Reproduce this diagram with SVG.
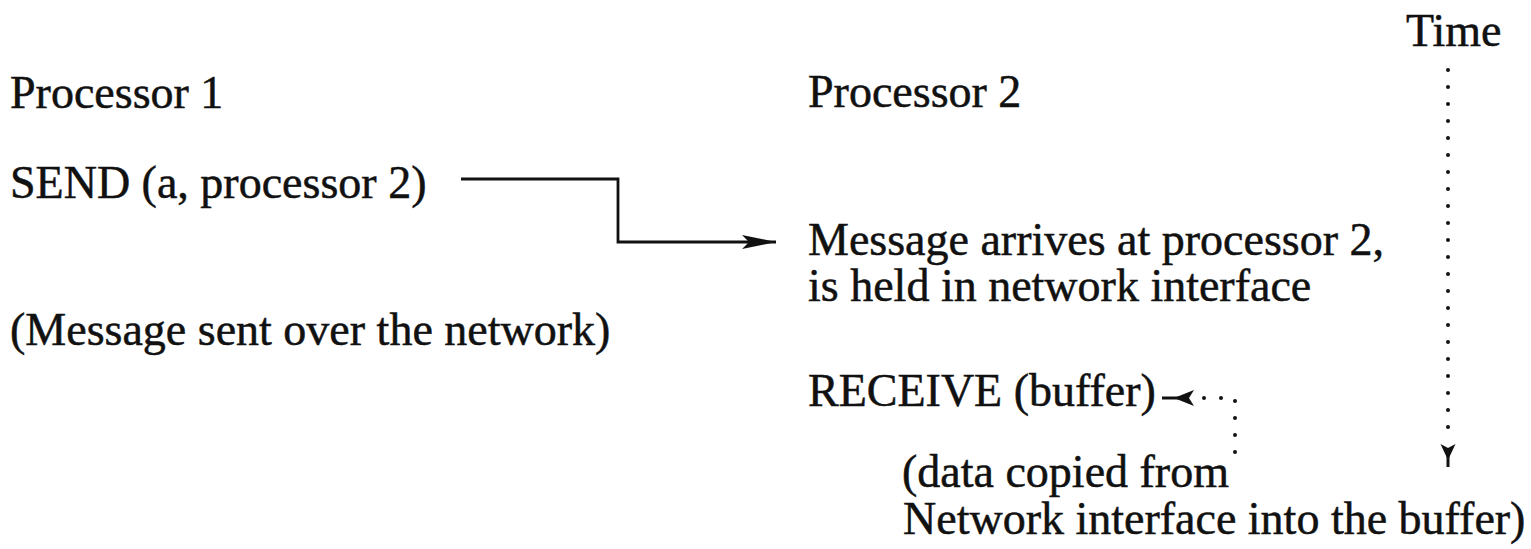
<svg xmlns="http://www.w3.org/2000/svg" width="1531" height="549" viewBox="0 0 1531 549">
  <style>
    text { font-family: "Liberation Serif", "Times New Roman", serif; font-size: 46px; fill: #111; stroke: #111; stroke-width: 0.5; }
    .solid { fill: none; stroke: #111; stroke-width: 2.8; }
    .dotted { fill: none; stroke: #111; stroke-width: 4; stroke-linecap: round; stroke-dasharray: 0 17; }
    .carrier { fill: none; stroke: none; }
  </style>
  <defs>
    <!-- barbed head for the solid message arrow -->
    <marker id="headSolid" markerUnits="userSpaceOnUse" viewBox="-36 -9 38 18" refX="0" refY="0" markerWidth="38" markerHeight="18" orient="auto">
      <path d="M0,0 L-34,-7 L-27,0 L-34,7 Z" fill="#111"/>
    </marker>
    <!-- dart head with a short stem for the dotted arrows -->
    <marker id="headDart" markerUnits="userSpaceOnUse" viewBox="-36 -11 38 22" refX="0" refY="0" markerWidth="38" markerHeight="22" orient="auto">
      <path d="M0,0 L-18,0" stroke="#111" stroke-width="3"/>
      <path d="M-12,0 L-32,-8 L-27,0 L-32,8 Z" fill="#111"/>
    </marker>
    <marker id="headDartSmall" markerUnits="userSpaceOnUse" viewBox="-28 -11 30 22" refX="0" refY="0" markerWidth="30" markerHeight="22" orient="auto">
      <path d="M0,0 L-12,0" stroke="#111" stroke-width="3"/>
      <path d="M-7,0 L-23,-7.5 L-19,0 L-23,7.5 Z" fill="#111"/>
    </marker>
  </defs>

  <g id="connectors">
    <!-- message travelling from processor 1 to processor 2 -->
    <path class="solid" d="M461,179 H618 V242 H776" marker-end="url(#headSolid)"/>
    <!-- time axis -->
    <path class="dotted" d="M1448,70 V438"/>
    <path class="carrier" d="M1448,440 V467" marker-end="url(#headDartSmall)"/>
    <!-- copy from interface into buffer -->
    <path class="dotted" d="M1235,452 V398 H1201"/>
    <path class="carrier" d="M1194,398 H1162" marker-end="url(#headDart)"/>
  </g>

  <g id="time-label"><text x="1406" y="46">Time</text></g>
  <g id="processor1">
    <text x="10" y="108">Processor 1</text>
  </g>
  <g id="processor2">
    <text x="808" y="107">Processor 2</text>
  </g>
  <g id="send"><text x="10" y="198">SEND (a, processor 2)</text></g>
  <g id="arrival">
    <text x="808" y="255">Message arrives at processor 2,</text>
    <text x="808" y="301">is held in network interface</text>
  </g>
  <g id="sent-note"><text x="10" y="345">(Message sent over the network)</text></g>
  <g id="receive"><text x="808" y="406">RECEIVE (buffer)</text></g>
  <g id="copy-note">
    <text x="902" y="487">(data copied from</text>
    <text x="903" y="534">Network interface into the buffer)</text>
  </g>
</svg>
